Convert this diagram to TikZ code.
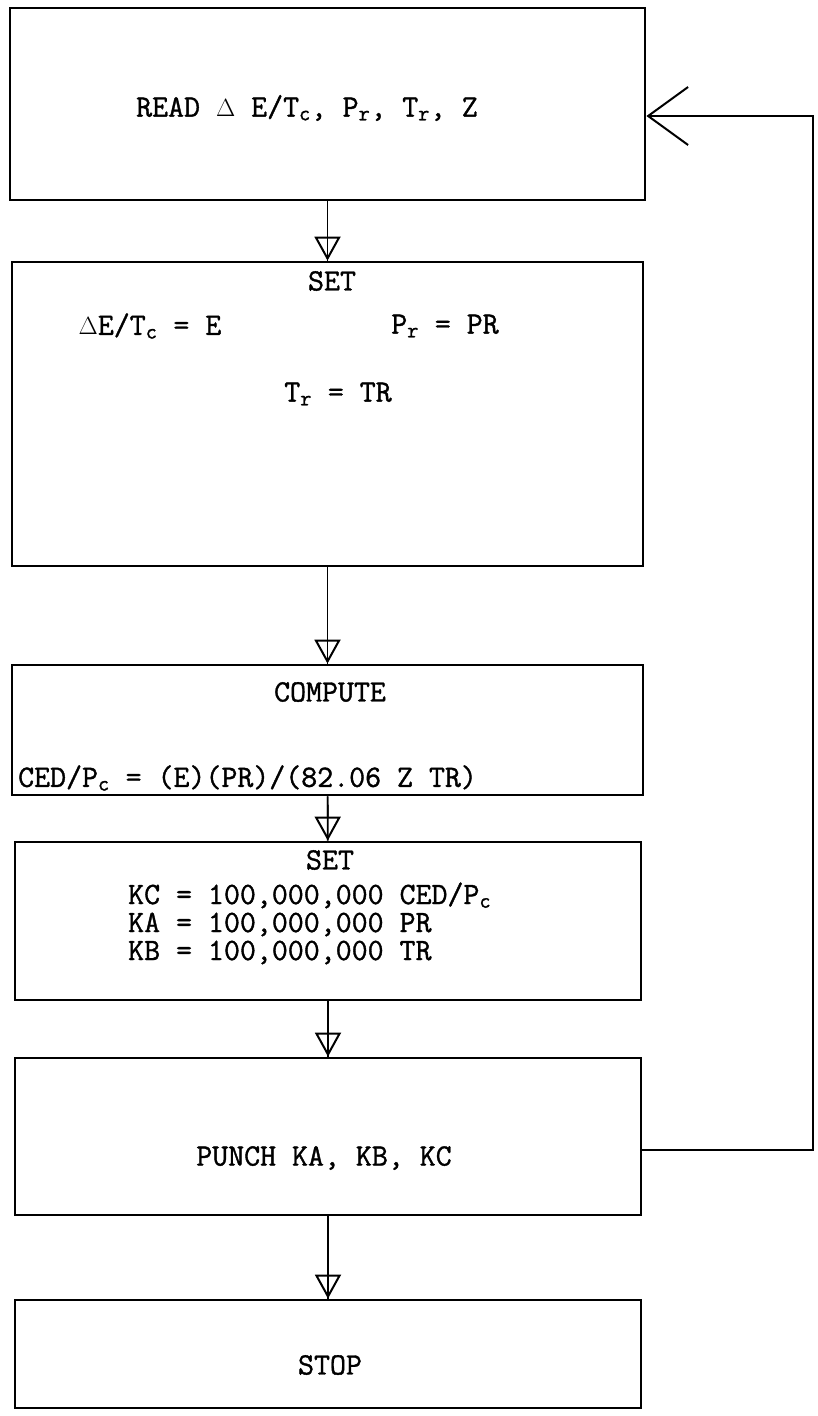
\documentclass[tikz,border=0pt]{standalone}
\usepackage{fontspec}
\setmonofont{Latin Modern Mono}[FakeBold=1.2]
\usetikzlibrary{arrows.meta}

\tikzset{
  box/.style={draw, line width=2.8pt, inner sep=0pt},
  txt/.style={font=\ttfamily\fontsize{31}{32}\selectfont, inner sep=0pt},
  flow/.style={line width=1.6pt, -{Triangle[open, length=24pt, width=26pt, line width=2pt]},
    postaction={draw, line width=1.6pt, arrows=-}},
  back/.style={line width=1.8pt, -{Straight Barb[length=40pt, width=58pt, line width=2pt]}}
}

\begin{document}
\begin{tikzpicture}[x=1pt, y=-1pt]
\useasboundingbox (0,0) rectangle (817,1416);

% boxes
\node[box, minimum width=635pt, minimum height=192pt] (read) at (327.5,104) {};
\node[box, minimum width=631pt, minimum height=304pt] (set1) at (327.5,414) {};
\node[box, minimum width=631pt, minimum height=130pt] (comp) at (327.5,730) {};
\node[box, minimum width=626pt, minimum height=158pt] (set2) at (328,921) {};
\node[box, minimum width=626pt, minimum height=157pt] (punch) at (328,1136.5) {};
\node[box, minimum width=626pt, minimum height=108pt] (stop) at (328,1354) {};

% texts
\node[txt] (readtxt) at (307,108) {READ $\Delta$ E/T\textsubscript{c}, P\textsubscript{r}, T\textsubscript{r}, Z};
\node[txt] (set1hd) at (332,281) {SET};
\node[txt] (edef) at (150,326) {$\Delta$E/T\textsubscript{c} = E};
\node[txt] (pdef) at (445,326) {P\textsubscript{r} = PR};
\node[txt] (tdef) at (338,394) {T\textsubscript{r} = TR};
\node[txt] (comphd) at (330,692) {COMPUTE};
\node[txt, anchor=west] (ced) at (18,778) {CED/P\textsubscript{c} = (E)(PR)/(82.06 Z TR)};
\node[txt] (set2hd) at (330,860) {SET};
\node[txt, anchor=base west] (kc) at (128,904) {KC = 100,000,000 CED/P\textsubscript{c}};
\node[txt, anchor=base west] (ka) at (128,932) {KA = 100,000,000 PR};
\node[txt, anchor=base west] (kb) at (128,960) {KB = 100,000,000 TR};
\node[txt] (punchtxt) at (324,1158) {PUNCH KA, KB, KC};
\node[txt] (stoptxt) at (330,1365) {STOP};

% flow
\draw[flow] (read) -- (set1);
\draw[flow] (set1) -- (comp);
\draw[flow] (comp) -- (set2);
\draw[flow] (set2) -- (punch);
\draw[flow] (punch) -- (stop);

% loop back
\coordinate (rlo) at (813,1150);
\coordinate (rhi) at (813,116);
\draw[back] (punch.east |- rlo) -- (rlo) -- (rhi) -- (read.east |- rhi);
\end{tikzpicture}
\end{document}
